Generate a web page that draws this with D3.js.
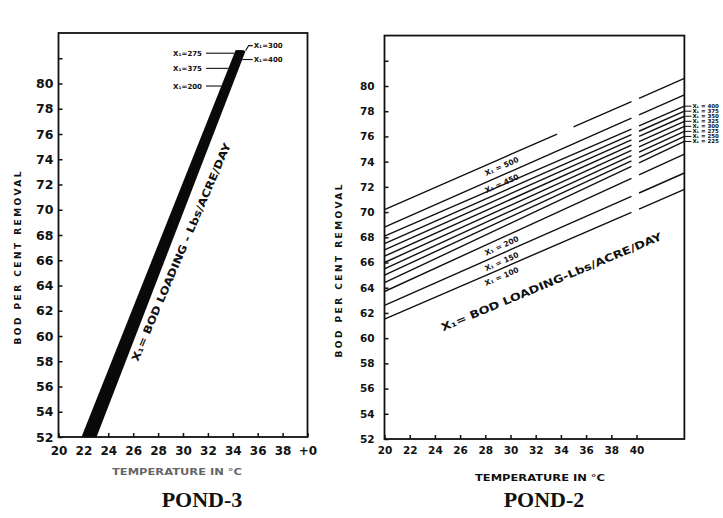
<!DOCTYPE html>
<html>
<head>
<meta charset="utf-8">
<script src="https://cdn.jsdelivr.net/npm/d3@7"></script>
<style>
  html, body { margin: 0; padding: 0; background: #fff; }
  svg { display: block; }
  text { font-family: "DejaVu Sans", sans-serif; font-weight: bold; fill: #111; }
</style>
</head>
<body>
<svg id="chart" width="723" height="518"></svg>
<script>
// Shared axis ticks: temperature (°C) and BOD removal (%)
const tempTicks = [20, 22, 24, 26, 28, 30, 32, 34, 36, 38, 40];
const removalTicks = [52, 54, 56, 58, 60, 62, 64, 66, 68, 70, 72, 74, 76, 78, 80, 82];
const removalLabelMax = 80;

// POND-3: loading curves (lbs/acre/day), crowded into one narrow band
const pond3Loads      = [200, 225, 250, 275, 300, 325, 350, 375, 400];
const pond3StartTemp  = [21.98, 22.10, 22.22, 22.34, 22.45, 22.57, 22.69, 22.80, 22.92]; // at 52 %
const pond3EndTemp    = [34.35, 34.42, 34.49, 34.56, 34.62, 34.69, 34.76, 34.83, 34.90];
const pond3EndRemoval = [82.6, 82.6, 82.6, 82.6, 82.6, 82.6, 82.6, 82.6, 82.6];
// call-outs beside the band
const pond3LabelLoads   = [275, 375, 200, 300, 400];
const pond3LabelRemoval = [82.4, 81.2, 79.8, 83.0, 81.9];
const pond3LabelSide    = ["left", "left", "left", "right", "right"];

// POND-2: one straight line per loading, removal at 20 °C and at the right frame
const pond2Loads      = [500, 450, 400, 375, 350, 325, 300, 275, 250, 225, 200, 150, 100];
const pond2At20       = [70.2, 68.8, 68.1, 67.5, 67.0, 66.5, 66.0, 65.5, 65.0, 64.4, 63.7, 62.6, 61.5];
const pond2AtEnd      = [80.6, 79.3, 78.4, 78.0, 77.6, 77.2, 76.8, 76.4, 76.0, 75.6, 74.6, 73.1, 71.8];
const pond2StartTemp  = 20;
const pond2EndTemp    = 43.8;
const pond2Gap        = [39.6, 40.2];
const pond2TopLineGap = [33.7, 35.0];   // extra break in the X1 = 500 line
const pond2EdgeLabels  = [400, 375, 350, 325, 300, 275, 250, 225];
const pond2InnerLabels = [500, 450, 200, 150, 100];

const svg = d3.select("#chart");

function drawFrame(g, x, y, xMax, yMax) {
  g.append("rect")
    .attr("x", x(20)).attr("y", y(yMax))
    .attr("width", x(xMax) - x(20)).attr("height", y(52) - y(yMax))
    .attr("fill", "none").attr("stroke", "#111").attr("stroke-width", 1.8);
}

function drawAxes(g, x, y, fontY, fontX, padY, padX) {
  const ax = g.append("g").attr("transform", `translate(0,${y(52)})`)
    .call(d3.axisBottom(x).tickValues(tempTicks).tickSize(-4).tickSizeOuter(0).tickPadding(padX));
  const ay = g.append("g").attr("transform", `translate(${x(20)},0)`)
    .call(d3.axisLeft(y).tickValues(removalTicks)
      .tickFormat(d => d <= removalLabelMax ? d : "")
      .tickSize(-4).tickSizeOuter(0).tickPadding(padY));
  [ax, ay].forEach(a => {
    a.select(".domain").remove();
    a.selectAll(".tick line").attr("stroke", "#111").attr("stroke-width", 1.5);
    a.selectAll("text").attr("fill", "#111")
      .style("font-family", "DejaVu Sans, sans-serif").style("font-weight", "bold");
  });
  ay.selectAll("text").style("font-size", fontY + "px");
  ax.selectAll("text").style("font-size", fontX + "px");
  return { ax, ay };
}

// ---------------- POND-3 ----------------
const x3 = d3.scaleLinear().domain([20, 40]).range([58.5, 307.5]);
const y3 = d3.scaleLinear().domain([52, 80]).range([437, 83.5]);
const g3 = svg.append("g");
drawFrame(g3, x3, y3, 40, 84);
const axes3 = drawAxes(g3, x3, y3, 12.5, 12, 5, 9);
axes3.ax.selectAll(".tick text").filter(d => d === 40).text("+0");

const line3 = d3.line().x(d => x3(d.t)).y(d => y3(d.v));
const pond3 = pond3Loads.map((load, i) => ({
  load,
  pts: [{ t: pond3StartTemp[i], v: 52 }, { t: pond3EndTemp[i], v: pond3EndRemoval[i] }]
}));
g3.append("g").selectAll("path").data(pond3).join("path")
  .attr("d", d => line3(d.pts))
  .attr("fill", "none").attr("stroke", "#0a0a0a").attr("stroke-width", 3.2);

// temperature on a given band line at a given removal
function tempOn(i, v) {
  const a = pond3StartTemp[i], b = pond3EndTemp[i], vb = pond3EndRemoval[i];
  return a + (b - a) * (v - 52) / (vb - 52);
}
const last3 = pond3Loads.length - 1;
pond3LabelLoads.forEach((load, k) => {
  const v = pond3LabelRemoval[k];
  const yy = y3(v);
  if (pond3LabelSide[k] === "left") {
    const edge = x3(tempOn(0, v)) - 1.6;
    g3.append("line").attr("x1", 206).attr("x2", edge).attr("y1", yy).attr("y2", yy)
      .attr("stroke", "#111").attr("stroke-width", 1.1);
    g3.append("text").attr("x", 202).attr("y", yy + 2.5)
      .attr("text-anchor", "end").style("font-size", "7px").text(`X₁=${load}`);
  } else {
    const vv = Math.min(v, pond3EndRemoval[last3]);
    const ex = x3(tempOn(last3, vv)) + 1.6, ey = y3(vv);
    const kx = Math.max(ex + 3, x3(tempOn(last3, pond3EndRemoval[last3])) + 4);
    g3.append("path")
      .attr("d", `M${ex},${ey} L${kx},${yy} L${x3(35.6)},${yy}`)
      .attr("fill", "none").attr("stroke", "#111").attr("stroke-width", 1.1);
    g3.append("text").attr("x", x3(35.6) + 1).attr("y", yy + 2.5)
      .style("font-size", "7px").text(`X₁=${load}`);
  }
});

g3.append("text")
  .attr("transform", `translate(${x3(29.84)},${y3(66.65)}) rotate(-66.8)`)
  .attr("text-anchor", "middle").attr("dy", "0.35em")
  .attr("textLength", 236).attr("lengthAdjust", "spacingAndGlyphs")
  .style("font-size", "10.5px").text("X₁= BOD LOADING - Lbs/ACRE/DAY");

g3.append("text")
  .attr("transform", "translate(21,258) rotate(-90)")
  .attr("text-anchor", "middle")
  .attr("textLength", 173).attr("lengthAdjust", "spacing")
  .style("font-size", "9px").text("BOD PER CENT REMOVAL");
g3.append("text")
  .attr("x", 177).attr("y", 475).attr("text-anchor", "middle")
  .attr("textLength", 130).attr("lengthAdjust", "spacingAndGlyphs")
  .style("font-size", "9px").style("fill", "#666").text("TEMPERATURE IN °C");
g3.append("text")
  .attr("x", 202).attr("y", 507).attr("text-anchor", "middle")
  .style("font-family", "Liberation Serif, serif").style("font-size", "22px")
  .text("POND-3");

// ---------------- POND-2 ----------------
const x2 = d3.scaleLinear().domain([20, 40]).range([384.5, 636.5]);
const y2 = d3.scaleLinear().domain([52, 80]).range([439, 86]);
const g2 = svg.append("g");
drawFrame(g2, x2, y2, pond2EndTemp, 84);
drawAxes(g2, x2, y2, 10.5, 10.5, 10, 8);

const pond2 = pond2Loads.map((load, i) => ({ load, a: pond2At20[i], b: pond2AtEnd[i] }));
const valueAt = (d, t) => d.a + (d.b - d.a) * (t - pond2StartTemp) / (pond2EndTemp - pond2StartTemp);
const line2 = d3.line().x(t => x2(t[0])).y(t => y2(t[1]));
const segs = [];
pond2.forEach((d, i) => {
  const spans = i === 0
    ? [[pond2StartTemp, pond2TopLineGap[0]], [pond2TopLineGap[1], pond2Gap[0]], [pond2Gap[1], pond2EndTemp]]
    : [[pond2StartTemp, pond2Gap[0]], [pond2Gap[1], pond2EndTemp]];
  spans.forEach(([t0, t1]) => {
    segs.push({ d, pts: [[t0, valueAt(d, t0)], [t1, valueAt(d, t1)]] });
  });
});
g2.append("g").selectAll("path").data(segs).join("path")
  .attr("d", s => line2(s.pts))
  .attr("fill", "none").attr("stroke", "#111").attr("stroke-width", 1.4);

// loadings called out beyond the right frame
const edge = pond2.filter(d => pond2EdgeLabels.includes(d.load));
const xe = x2(pond2EndTemp);
g2.append("g").selectAll("line").data(edge).join("line")
  .attr("x1", xe).attr("x2", xe + 7)
  .attr("y1", d => y2(d.b)).attr("y2", d => y2(d.b))
  .attr("stroke", "#111").attr("stroke-width", 1);
g2.append("g").selectAll("text").data(edge).join("text")
  .attr("x", xe + 8).attr("y", d => y2(d.b) + 2)
  .style("font-size", "5.5px").text(d => `X₁ = ${d.load}`);

// loadings written along the lines
const labelT = 29.3;
const inner = pond2.filter(d => pond2InnerLabels.includes(d.load));
g2.append("g").selectAll("text").data(inner).join("text")
  .attr("transform", d => {
    const ang = Math.atan2(y2(valueAt(d, 30)) - y2(valueAt(d, 28)), x2(30) - x2(28)) * 180 / Math.PI;
    return `translate(${x2(labelT)},${y2(valueAt(d, labelT)) + 8}) rotate(${ang})`;
  })
  .attr("text-anchor", "middle").attr("dy", "0.35em")
  .style("font-size", "7.5px").text(d => `X₁ = ${d.load}`);

g2.append("text")
  .attr("transform", `translate(${x2(33.25)},${y2(64.46)}) rotate(-22.7)`)
  .attr("text-anchor", "middle").attr("dy", "0.35em")
  .attr("textLength", 238).attr("lengthAdjust", "spacingAndGlyphs")
  .style("font-size", "10.5px").text("X₁= BOD LOADING-Lbs/ACRE/DAY");

g2.append("text")
  .attr("transform", "translate(342,271) rotate(-90)")
  .attr("text-anchor", "middle")
  .attr("textLength", 173).attr("lengthAdjust", "spacing")
  .style("font-size", "9px").text("BOD PER CENT REMOVAL");
g2.append("text")
  .attr("x", 540).attr("y", 481).attr("text-anchor", "middle")
  .attr("textLength", 130).attr("lengthAdjust", "spacingAndGlyphs")
  .style("font-size", "9.5px").text("TEMPERATURE IN °C");
g2.append("text")
  .attr("x", 544).attr("y", 507).attr("text-anchor", "middle")
  .style("font-family", "Liberation Serif, serif").style("font-size", "22px")
  .text("POND-2");
</script>
</body>
</html>
